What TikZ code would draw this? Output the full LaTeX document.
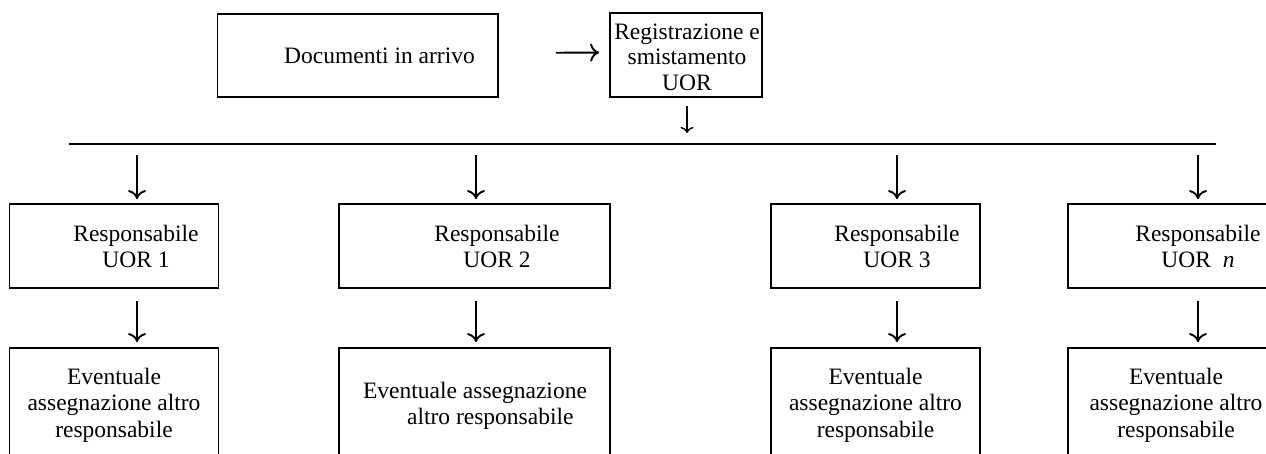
\documentclass[tikz,border=0pt]{standalone}
\usepackage{fontspec}
\setmainfont{Liberation Serif}
\usetikzlibrary{arrows.meta}
\begin{document}
\begin{tikzpicture}[x=1pt,y=-1pt,
  box/.style={draw,line width=1.8pt,inner sep=0pt,minimum width=#1},
  boxA/.style={box=#1,minimum height=84pt},
  boxB/.style={box=#1,minimum height=114pt},
  txt/.style={inner sep=0pt,align=center,font=\fontsize{23.5}{26.5}\selectfont},
  arr/.style={line width=1.9pt,-{To[length=9pt,width=18pt]}},
  arrs/.style={line width=1.4pt,-{To[length=6pt,width=13pt]}}]
\useasboundingbox (0,0) rectangle (1266,454);
\fill[white] (0,0) rectangle (1266,454);
\clip (0,0) rectangle (1266,454);
% top row
\node[box=280.5pt,minimum height=83pt] (doc) at (357.75,55.5) {};
\node[txt] (doct) at (379.5,55.5) {Documenti in arrivo};
\node[box=152pt,minimum height=84pt] (reg) at (686,55) {};
\node[txt,font=\fontsize{23.5}{25.5}\selectfont] (regt) at (687,57) {Registrazione e\\smistamento\\UOR};
\draw[arr,shorten <=57pt,shorten >=10pt] ([yshift=2.5pt]doc.east) -- ([yshift=2.5pt]reg.west);
% bus
\coordinate (busL) at (69,144);
\coordinate (busR) at (1216,144);
\draw[line width=2pt] (busL) -- (busR);
\draw[arrs,shorten <=8pt,shorten >=11pt] ([xshift=1pt]reg.south) -- ([xshift=1pt]reg.south |- busL);
% column x positions
\coordinate (c1) at (137,0);
\coordinate (c2) at (476,0);
\coordinate (c3) at (897,0);
\coordinate (c4) at (1198,0);
% row 1
\node[boxA=209pt] (r1) at (114,246) {};
\node[boxA=271pt] (r2) at (474.5,246) {};
\node[boxA=209pt] (r3) at (875.5,246) {};
\node[boxA=212pt] (r4) at (1174,246) {};
\node[txt] (t1) at (136,246.5) {Responsabile\\UOR 1};
\node[txt] (t2) at (497,246.5) {Responsabile\\UOR 2};
\node[txt] (t3) at (897,246.5) {Responsabile\\UOR 3};
\node[txt] (t4) at (1198,246.5) {Responsabile\\UOR\ \ \textit{n}};
% row 2
\node[boxB=209pt] (e1) at (114,405) {};
\node[boxB=271pt] (e2) at (474.5,405) {};
\node[boxB=209pt] (e3) at (875.5,405) {};
\node[boxB=212pt] (e4) at (1174,405) {};
\node[txt] (u1) at (114,405) {Eventuale\\assegnazione altro\\responsabile};
\node[txt,align=left] (u2) at (475,406) {Eventuale assegnazione\\\hspace*{44pt}altro responsabile};
\node[txt] (u3) at (875.5,405) {Eventuale\\assegnazione altro\\responsabile};
\node[txt] (u4) at (1176,405) {Eventuale\\assegnazione altro\\responsabile};
% arrows bus -> row 1 -> row 2
\foreach \i in {1,2,3,4}{
  \draw[arr,shorten <=11pt,shorten >=4pt] (c\i |- busL) -- (c\i |- r\i.north);
  \draw[arr,shorten <=12pt,shorten >=5pt] (c\i |- r\i.south) -- (c\i |- e\i.north);
}
\end{tikzpicture}
\end{document}
